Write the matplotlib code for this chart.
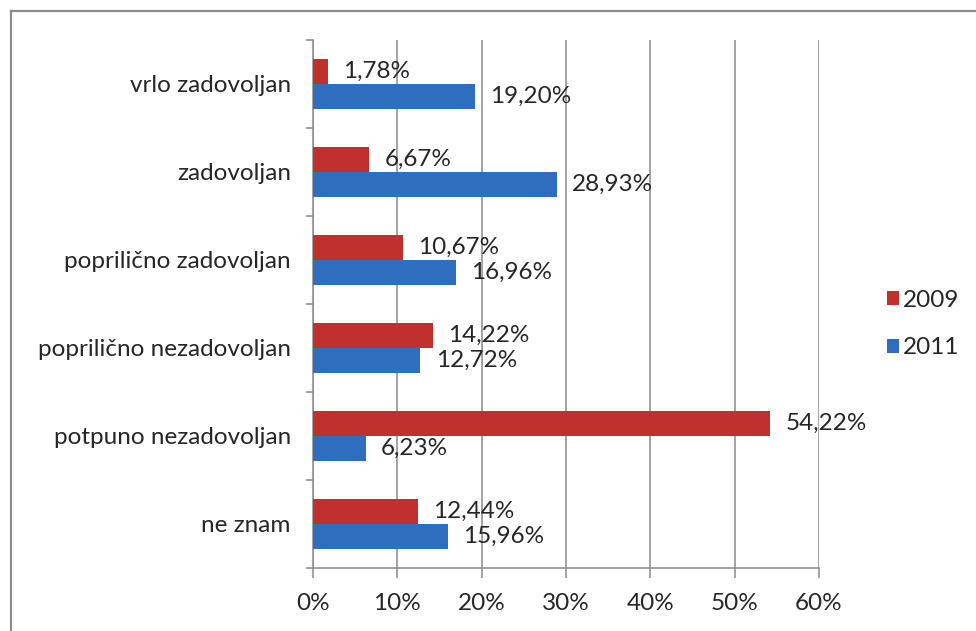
import matplotlib
matplotlib.use("Agg")
import matplotlib.pyplot as plt
import numpy as np
from matplotlib.lines import Line2D

categories = [
    "vrlo zadovoljan",
    "zadovoljan",
    "poprilično zadovoljan",
    "poprilično nezadovoljan",
    "potpuno nezadovoljan",
    "ne znam",
]
values_2009 = [1.78, 6.67, 10.67, 14.22, 54.22, 12.44]
values_2011 = [19.20, 28.93, 16.96, 12.72, 6.23, 15.96]
series_labels = ["2009", "2011"]
x_ticks = [0, 10, 20, 30, 40, 50, 60]

RED = "#c0302f"
BLUE = "#2f6ebf"
GRID = "#8a8a8a"
TEXT = "#262626"
FS = 17.5

plt.rcParams["font.family"] = ["Lato", "DejaVu Sans"]

fig = plt.figure(figsize=(9.76, 6.31), dpi=100)
ax = fig.add_axes([313 / 976, 1 - 568 / 631, (819 - 313) / 976, (568 - 40) / 631])

# outer frame (left and top edges visible)
fig.add_artist(Line2D([11 / 976, 11 / 976], [0, 1 - 11 / 631], color="#8c8c8c", lw=1.6))
fig.add_artist(Line2D([11 / 976, 1], [1 - 11 / 631, 1 - 11 / 631], color="#8c8c8c", lw=1.6))

n = len(categories)
pos = np.arange(n)
h = 0.28
bars_red = ax.barh(pos - h / 2, values_2009, height=h, color=RED, label=series_labels[0], zorder=3)
bars_blue = ax.barh(pos + h / 2, values_2011, height=h, color=BLUE, label=series_labels[1], zorder=3)

for bars, vals in ((bars_red, values_2009), (bars_blue, values_2011)):
    for b, v in zip(bars, vals):
        ax.annotate(
            f"{v:.2f}%".replace(".", ","),
            xy=(b.get_width(), b.get_y() + b.get_height() / 2),
            xytext=(11, 0),
            textcoords="offset points",
            va="center",
            ha="left",
            fontsize=FS,
            color=TEXT,
            zorder=4,
        )

ax.set_xlim(0, 60)
ax.set_ylim(n - 0.5, -0.5)
ax.set_xticks(x_ticks)
ax.set_xticklabels([f"{t}%" for t in x_ticks])
ax.set_yticks(pos)
ax.set_yticklabels(categories)
ax.set_yticks(np.arange(n + 1) - 0.5, minor=True)

ax.xaxis.grid(True, color=GRID, lw=1.1, zorder=0)
for side in ("top", "right"):
    ax.spines[side].set_visible(False)
for side in ("left", "bottom"):
    ax.spines[side].set_color(GRID)
    ax.spines[side].set_linewidth(1.1)

ax.tick_params(axis="x", length=7, width=1.1, color=GRID, pad=11, labelsize=FS, labelcolor=TEXT)
ax.tick_params(axis="y", which="major", length=0, pad=16, labelsize=FS, labelcolor=TEXT)
ax.tick_params(axis="y", which="minor", length=5, width=1.1, color=GRID)

ax.legend(
    loc="center left",
    bbox_to_anchor=(865 / 976, 1 - 324 / 631),
    bbox_transform=fig.transFigure,
    frameon=False,
    fontsize=FS,
    handlelength=0.5,
    handleheight=0.5,
    handletextpad=0.15,
    labelspacing=1.1,
    labelcolor=TEXT,
)

fig.savefig("out.png", dpi=100, facecolor="white")
